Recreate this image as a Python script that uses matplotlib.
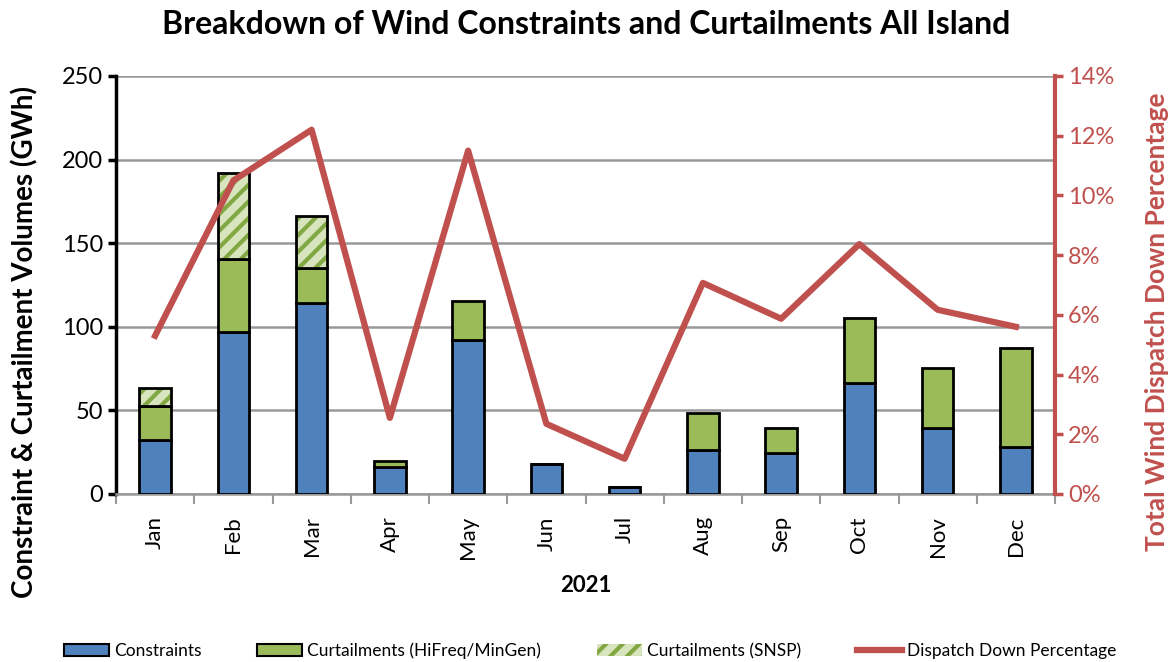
import matplotlib
matplotlib.use("Agg")
import matplotlib.pyplot as plt
from matplotlib.patches import Patch
from matplotlib.lines import Line2D
from matplotlib.ticker import FuncFormatter, MultipleLocator, FixedLocator
import numpy as np

months = ["Jan", "Feb", "Mar", "Apr", "May", "Jun", "Jul", "Aug", "Sep", "Oct", "Nov", "Dec"]
constraints = [32.3, 97.1, 114.4, 16.3, 92.1, 17.8, 4.0, 26.3, 24.3, 66.2, 39.3, 27.9]
curt_hifreq = [20.1, 43.3, 21.0, 3.6, 23.5, 0.0, 0.0, 22.0, 15.0, 38.9, 35.9, 59.2]
curt_snsp = [11.0, 51.8, 30.9, 0.0, 0.0, 0.0, 0.0, 0.0, 0.0, 0.0, 0.0, 0.0]
dispatch_down_pct = [5.3, 10.5, 12.2, 2.55, 11.5, 2.35, 1.18, 7.07, 5.87, 8.37, 6.17, 5.6]

BLUE = "#4F81BD"
GREEN = "#9BBB59"
LIGHTGREEN = "#D7E4BD"
HATCHGREEN = "#82A844"
RED = "#C0504D"
FONT = ["Lato", "DejaVu Sans"]

plt.rcParams["font.family"] = FONT
plt.rcParams["hatch.linewidth"] = 3

fig = plt.figure(figsize=(11.73, 6.62), dpi=100)
ax = fig.add_axes([116 / 1173, 1 - 494 / 662, (1055 - 116) / 1173, (494 - 76) / 662])

x = np.arange(len(months))
w = 0.4
c = np.array(constraints)
h = np.array(curt_hifreq)
s = np.array(curt_snsp)

ax.bar(x, c, w, color=BLUE, edgecolor="black", linewidth=2, zorder=3)
ax.bar(x, h, w, bottom=c, color=GREEN, edgecolor="black", linewidth=2, zorder=3)
mask = s > 0
ax.bar(x[mask], s[mask], w, bottom=(c + h)[mask], color=LIGHTGREEN, edgecolor=HATCHGREEN,
       hatch="//", linewidth=0, zorder=3)
ax.bar(x[mask], s[mask], w, bottom=(c + h)[mask], fill=False, edgecolor="black",
       linewidth=2, zorder=4)

ax.set_xlim(-0.5, len(months) - 0.5)
ax.set_ylim(0, 250)
ax.yaxis.set_major_locator(MultipleLocator(50))
ax.set_axisbelow(True)
ax.grid(axis="y", color="#999999", linewidth=1.8, zorder=0)

ax.set_xticks(x)
ax.set_xticklabels(months, rotation=90, fontsize=16)
ax.xaxis.set_minor_locator(FixedLocator(np.arange(-0.5, len(months), 1.0)))
ax.tick_params(axis="x", which="major", length=0, pad=16)
ax.tick_params(axis="x", which="minor", length=7, color="#999999", width=1.5)
ax.tick_params(axis="y", labelsize=17, length=6, width=2.5, direction="out")

for sp in ["top", "right"]:
    ax.spines[sp].set_visible(False)
ax.spines["left"].set_linewidth(2.5)
ax.spines["bottom"].set_color("#999999")
ax.spines["bottom"].set_linewidth(1.8)

ax.set_xlabel("2021", fontsize=16, fontweight="bold")
ax.xaxis.set_label_coords(0.5, -(585 - 494) / 418)
ax.xaxis.label.set_va("center")
ax.set_ylabel("Constraint & Curtailment Volumes (GWh)", fontsize=20, fontweight="bold")
ax.yaxis.set_label_coords((38 - 116) / 939, (494 - 342) / 418)

ax2 = ax.twinx()
ax2.plot(x, np.array(dispatch_down_pct) / 100, color=RED, linewidth=4.5, zorder=5)
ax2.set_ylim(0, 0.14)
ax2.yaxis.set_major_locator(MultipleLocator(0.02))
ax2.yaxis.set_major_formatter(FuncFormatter(lambda v, p: f"{v * 100:.0f}%"))
ax2.tick_params(axis="y", colors=RED, labelsize=17, length=6, width=2.5, labelcolor=RED)
for sp in ["top", "left", "bottom"]:
    ax2.spines[sp].set_visible(False)
ax2.spines["right"].set_color(RED)
ax2.spines["right"].set_linewidth(3)
ax2.set_ylabel("Total Wind Dispatch Down Percentage", fontsize=19, color=RED, fontweight="bold")
ax2.yaxis.set_label_coords((1145 - 116) / 939, (494 - 322) / 418)

fig.suptitle("Breakdown of Wind Constraints and Curtailments All Island", fontsize=23,
             fontweight="bold", y=1 - 10 / 662, va="top")

handles = [
    Patch(facecolor=BLUE, edgecolor="black", linewidth=1.5),
    Patch(facecolor=GREEN, edgecolor="black", linewidth=1.5),
    Patch(facecolor=LIGHTGREEN, edgecolor=HATCHGREEN, hatch="//", linewidth=0),
    Line2D([0], [0], color=RED, linewidth=4.5),
]
labels = ["Constraints", "Curtailments (HiFreq/MinGen)", "Curtailments (SNSP)", "Dispatch Down Percentage"]
fig.legend(handles, labels, loc="center", bbox_to_anchor=(0.503, 1 - 651 / 662), ncol=4,
           frameon=False, fontsize=12.5, handlelength=2.6, handletextpad=0.3, columnspacing=3.2)

fig.savefig("out.png", dpi=100)
